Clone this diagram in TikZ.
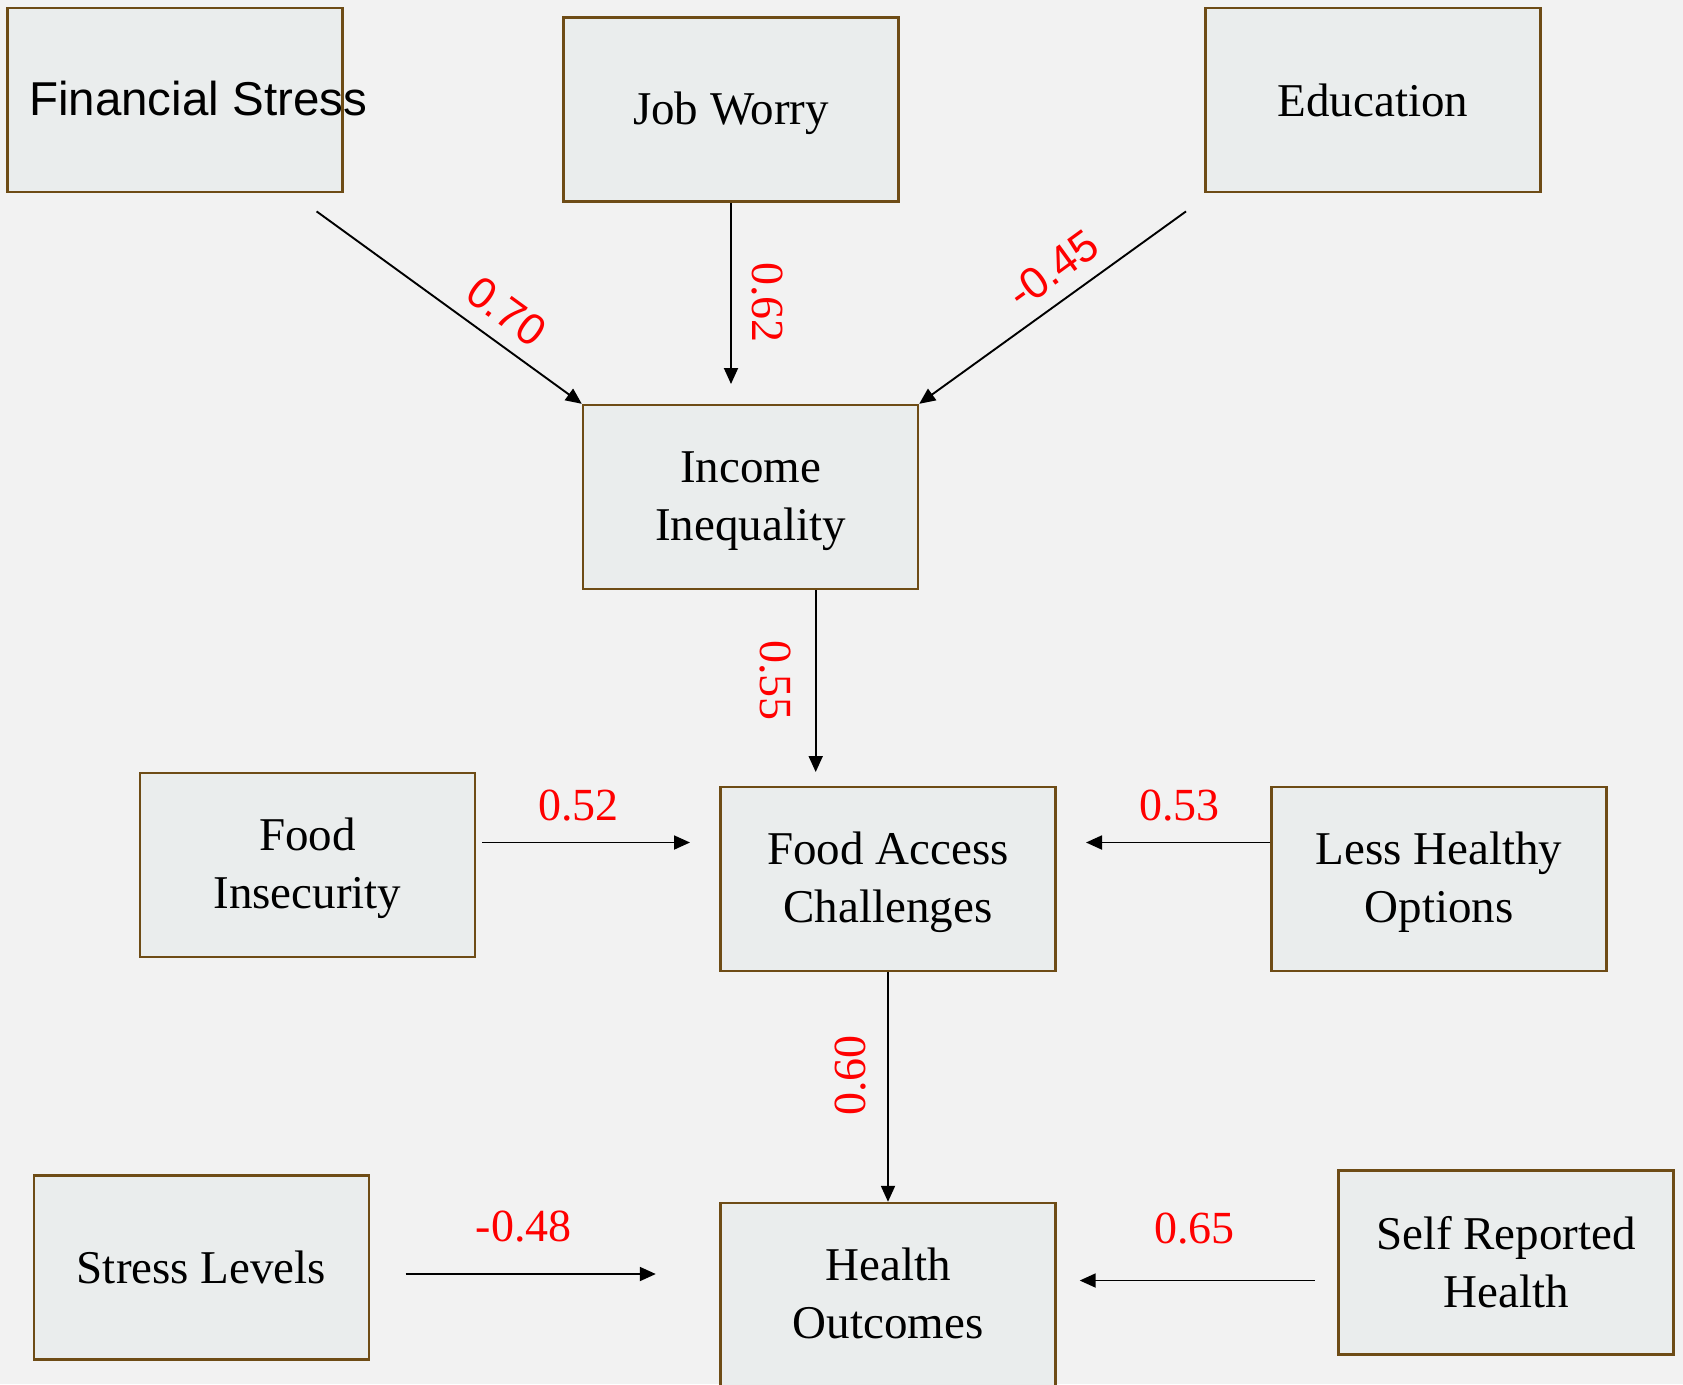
\documentclass[tikz,border=0pt]{standalone}
\usepackage{fontspec}
\setmainfont{Liberation Serif}
\newfontfamily\arialf{Liberation Sans}
\usetikzlibrary{arrows.meta}
\definecolor{bgc}{RGB}{242,242,242}
\definecolor{boxfill}{RGB}{234,237,237}
\definecolor{boxline}{RGB}{110,76,22}
\definecolor{lblred}{RGB}{255,0,0}
\tikzset{
  box/.style={draw=boxline, line width=2.4pt, fill=boxfill, minimum width=335pt, minimum height=184pt, inner sep=0pt},
  boxtext/.style={inner sep=0pt, align=center, font=\fontsize{47}{58}\selectfont},
  arr/.style={line width=1.9pt, -{Triangle[length=16pt,width=14pt]}},
  coef/.style={text=lblred, inner sep=0pt, font=\fontsize{46}{50}\selectfont},
  coefs/.style={text=lblred, inner sep=0pt, font=\arialf\fontsize{44}{50}\selectfont},
}
\begin{document}
\begin{tikzpicture}[x=1pt,y=-1pt]
\useasboundingbox (0,0) rectangle (1683,1384);
\fill[bgc] (0,0) rectangle (1683,1384);
\begin{scope}
\clip (0,0) rectangle (1683,1384);
% boxes
\node[box] (fs) at (175,100) {};
\node[box] (jw) at (731,109.5) {};
\node[box] (ed) at (1373,100) {};
\node[box] (ii) at (750.5,497) {};
\node[box] (fi) at (307.5,865) {};
\node[box] (fac) at (888,879) {};
\node[box] (lho) at (1439,879) {};
\node[box] (sl) at (201.5,1267.5) {};
\node[box] (ho) at (888,1295) {};
\node[box] (srh) at (1506,1262.5) {};
\end{scope}
% box texts
\node[anchor=base west, inner sep=0pt, font=\arialf\fontsize{47.5}{56}\selectfont] (fst) at (29,115) {Financial Stress};
\node[boxtext] (jwt) at ([yshift=-4pt]jw.center) {Job Worry};
\node[boxtext] (edt) at (ed.center) {Education};
\node[boxtext] (iit) at ([yshift=-4pt]ii.center) {Income\\Inequality};
\node[boxtext] (fit) at ([yshift=-3.5pt]fi.center) {Food\\Insecurity};
\node[boxtext] (fact) at ([yshift=-3.5pt]fac.center) {Food Access\\Challenges};
\node[boxtext] (lhot) at ([yshift=-3.5pt]lho.center) {Less Healthy\\Options};
\node[boxtext] (slt) at (sl.center) {Stress Levels};
\node[boxtext] (hot) at ([yshift=2pt]ho.center) {Health\\Outcomes};
\node[boxtext] (srht) at (srh.center) {Self Reported\\Health};
% free ends
\coordinate (s1) at (316.6,211.4);
\coordinate (s3) at (1186,211.4);
\coordinate (e1) at (731,384);
\coordinate (e2) at (815.7,772);
\coordinate (s4) at (482,842.5);
\coordinate (e4) at (690,842.5);
\coordinate (e5) at (1086,842.5);
\coordinate (s7) at (405.7,1274);
\coordinate (e7) at (655.8,1274);
\coordinate (s8) at (1314.8,1280.5);
\coordinate (e8) at (1079.7,1280.5);
% connectors
\draw[arr] (s1) -- (ii.north west);
\draw[arr] (jw.south) -- (e1);
\draw[arr] (s3) -- (ii.north east);
\draw[arr] (ii.south -| e2) -- (e2);
\draw[arr] (s4) -- (e4);
\draw[arr] (lho.west |- e5) -- (e5);
\draw[arr] (fac.south) -- (ho.north);
\draw[arr] (s7) -- (e7);
\draw[arr] (s8) -- (e8);
% coefficients
\node[coefs, rotate=-36] (l70) at (506.6,311) {0.70};
\node[coef, rotate=-90] (l62) at (767.4,302.7) {0.62};
\node[coefs, rotate=36] (l45) at (1053,269) {-0.45};
\node[coef, rotate=-90] (l55) at (775,680.5) {0.55};
\node[coef] (l52) at (578.5,806) {0.52};
\node[coef] (l53) at (1179.6,806) {0.53};
\node[coef, rotate=90] (l60) at (851,1075.5) {0.60};
\node[coef] (l48) at (523.8,1226.8) {-0.48};
\node[coef] (l65) at (1194.6,1229) {0.65};
\end{tikzpicture}
\end{document}
